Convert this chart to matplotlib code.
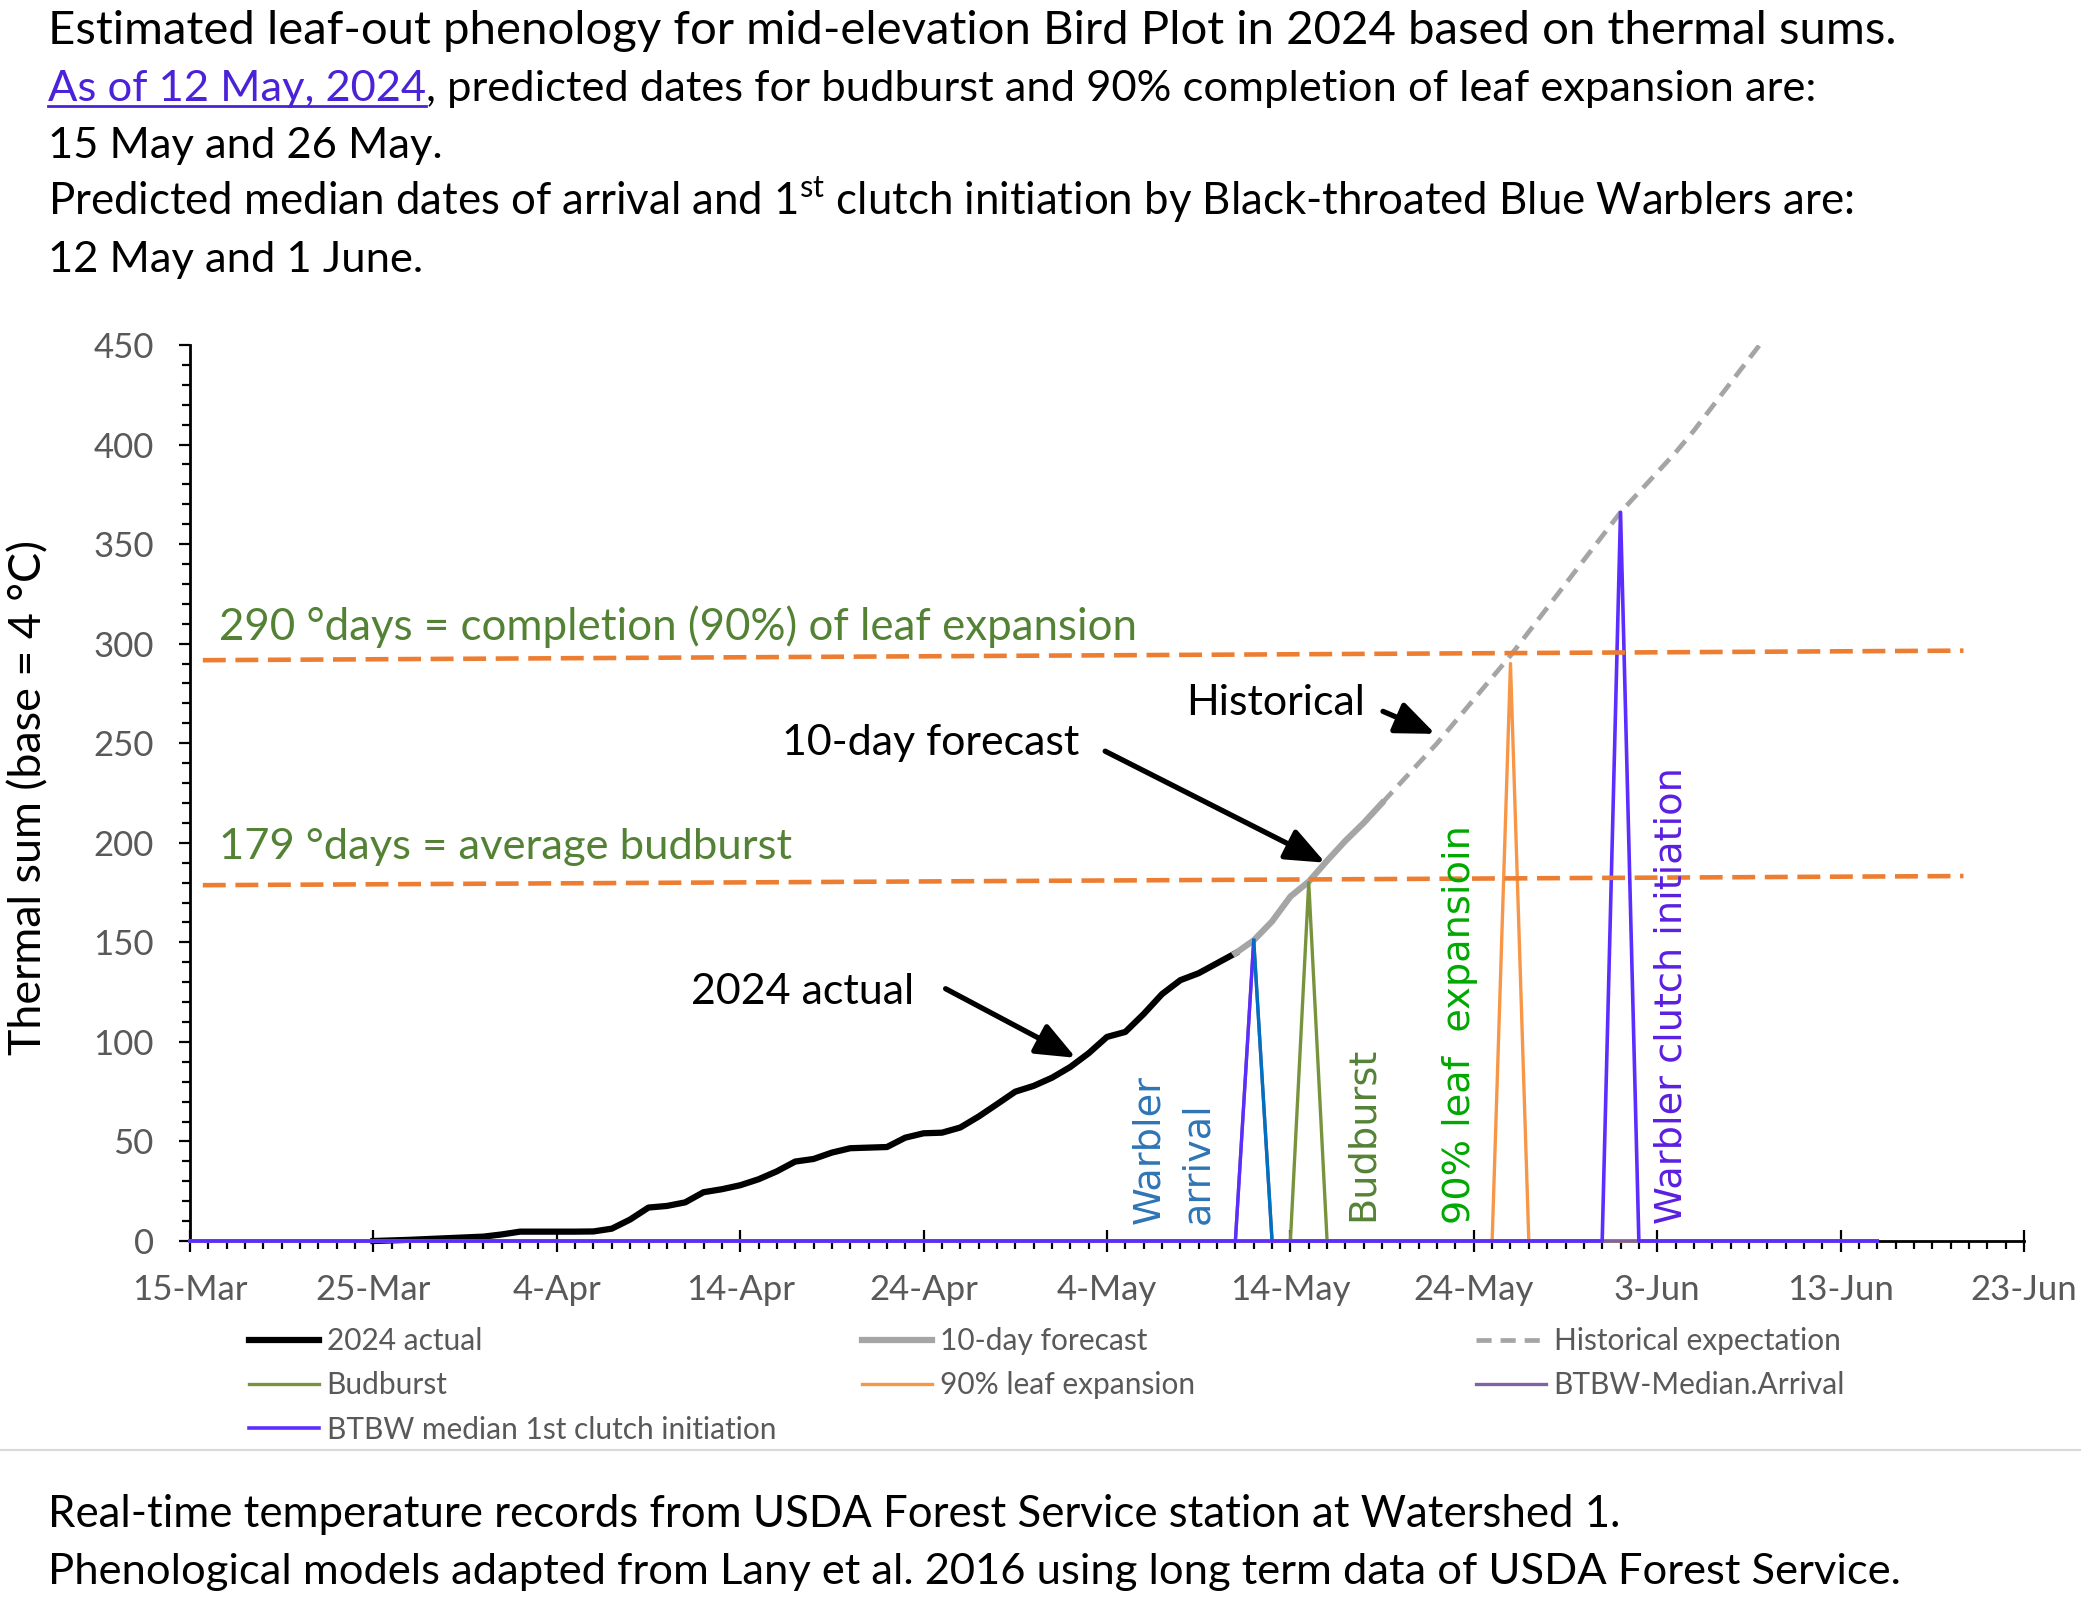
import numpy as np
import matplotlib
matplotlib.use('Agg')
import matplotlib.pyplot as plt
from matplotlib.lines import Line2D
from matplotlib.ticker import MultipleLocator, FixedLocator

plt.rcParams['font.family'] = ['Lato', 'DejaVu Sans']
plt.rcParams['mathtext.fontset'] = 'custom'
plt.rcParams['mathtext.rm'] = 'Lato'

# x values are days counted from 15 March 2024
actual_days = list(range(10, 58))
actual_sum = [0, 0.3, 0.6, 1.0, 1.4, 1.8, 2.2, 3.3, 4.7, 4.7,
              4.7, 4.7, 4.8, 6.2, 10.8, 16.8, 17.6, 19.4, 24.5, 26.0,
              28.0, 31.0, 35.0, 39.9, 41.2, 44.4, 46.6, 46.9, 47.2, 51.9,
              54.1, 54.4, 57.0, 62.5, 68.7, 75.0, 77.9, 82.0, 87.4, 94.3,
              102.5, 105.0, 114.0, 124.0, 131.0, 134.5, 139.5, 144.5]
forecast_days = list(range(57, 66))
forecast_sum = [144.5, 151, 160.5, 173, 180.5, 191, 201, 210, 220]
hist_days = list(range(65, 87))
hist_sum = [220, 230, 240, 250, 261, 272, 283, 294, 306, 318, 330,
            342, 354, 366, 376, 386, 396, 407, 419, 431, 443, 455]

budburst_days = [0, 60, 61, 62, 92]
budburst_sum = [0, 0, 180, 0, 0]
leaf_days = [0, 71, 72, 73, 92]
leaf_sum = [0, 0, 290, 0, 0]
arrival_days = [0, 57, 58, 59, 92]
arrival_sum = [0, 0, 151, 0, 0]
clutch_days = [0, 77, 78, 79, 92]
clutch_sum = [0, 0, 366, 0, 0]

threshold_days = [0.7, 96.7]
budburst_line = [178.7, 183.3]
leaf_line = [291.7, 296.5]

tick_days = [0, 10, 20, 30, 40, 50, 60, 70, 80, 90, 100]
tick_labels = ['15-Mar', '25-Mar', '4-Apr', '14-Apr', '24-Apr', '4-May',
               '14-May', '24-May', '3-Jun', '13-Jun', '23-Jun']

W, H = 2081, 1601
fig = plt.figure(figsize=(W / 100, H / 100), dpi=100)
ax = fig.add_axes([190 / W, 1 - 1241 / H, (2024 - 190) / W, (1241 - 345) / H])

l_act, = ax.plot(actual_days, actual_sum, color='black', lw=4.5, label='2024 actual',
                 solid_joinstyle='round', clip_on=False, zorder=3)
l_fc, = ax.plot(forecast_days, forecast_sum, color='#A5A5A5', lw=4.5, label='10-day forecast',
                solid_joinstyle='round', zorder=3)
l_hist, = ax.plot(hist_days, hist_sum, color='#A5A5A5', lw=3.4, dashes=(3.2, 1.9),
                  label='Historical expectation', zorder=3)
l_bud, = ax.plot(budburst_days, budburst_sum, color='#77933C', lw=2.4, label='Budburst',
                 clip_on=False, zorder=4)
l_leaf, = ax.plot(leaf_days, leaf_sum, color='#F79646', lw=2.4, label='90% leaf expansion',
                  clip_on=False, zorder=4)
l_arr, = ax.plot(arrival_days, arrival_sum, color='#8064A2', lw=2.4, label='BTBW-Median.Arrival',
                 clip_on=False, zorder=4)
ax.plot(arrival_days[1:3], arrival_sum[1:3], color='#5B2EFF', lw=2.4, zorder=4)
ax.plot(arrival_days[2:4], arrival_sum[2:4], color='#0070C0', lw=2.4, zorder=4)
l_cl, = ax.plot(clutch_days, clutch_sum, color='#5B2EFF', lw=2.6,
                label='BTBW median 1st clutch initiation', clip_on=False, zorder=5)

ax.plot(threshold_days, budburst_line, color='#ED7D31', lw=3.3, dashes=(5, 2.1), zorder=6)
ax.plot(threshold_days, leaf_line, color='#ED7D31', lw=3.3, dashes=(5, 2.1), zorder=6)

ax.set_xlim(0, 100)
ax.set_ylim(0, 450)
for s in ['top', 'right']:
    ax.spines[s].set_visible(False)
for s in ['left', 'bottom']:
    ax.spines[s].set_linewidth(2)
    ax.spines[s].set_color('black')

ax.xaxis.set_major_locator(FixedLocator(tick_days))
ax.set_xticklabels(tick_labels)
ax.xaxis.set_minor_locator(MultipleLocator(1))
ax.yaxis.set_major_locator(MultipleLocator(50))
ax.yaxis.set_minor_locator(MultipleLocator(10))
ax.tick_params(axis='x', which='major', direction='inout', length=16, width=1.6,
               labelsize=25, labelcolor='#595959', pad=16)
ax.tick_params(axis='x', which='minor', direction='out', length=6, width=1.6)
ax.tick_params(axis='y', which='major', direction='out', length=8, width=1.6,
               labelsize=25, labelcolor='#595959', pad=18)
ax.tick_params(axis='y', which='minor', direction='out', length=6, width=1.6)

ax.set_ylabel('Thermal sum (base = 4 °C)', fontsize=32.3)
ax.yaxis.set_label_coords(-0.0878, 0.495)
ax.yaxis.label.set_verticalalignment('center')

green = '#548235'
ax.text(1.6, 308.7, '290 °days = completion (90%) of leaf expansion', color=green,
        fontsize=31.6, va='center', ha='left', zorder=7)
ax.text(1.6, 198, '179 °days = average budburst', color=green,
        fontsize=31.3, va='center', ha='left', zorder=7)

arrow = dict(arrowstyle='-|>,head_length=0.8,head_width=0.33', color='black', lw=3.8,
             mutation_scale=30, shrinkA=0, shrinkB=0)
ax.text(33.4, 125.3, '2024 actual', fontsize=31, ha='center', va='center', zorder=7)
ax.annotate('', xy=(48.3, 92), xytext=(41.2, 126.7), arrowprops=arrow, zorder=7)
ax.text(40.4, 250, '10-day forecast', fontsize=31, ha='center', va='center', zorder=7)
ax.annotate('', xy=(61.9, 190), xytext=(49.9, 246), arrowprops=arrow, zorder=7)
ax.text(59.2, 270, 'Historical', fontsize=31, ha='center', va='center', zorder=7)
ax.annotate('', xy=(67.9, 254.7), xytext=(65.05, 266), arrowprops=arrow, zorder=7)

rot = dict(rotation=90, ha='center', va='bottom', family='DejaVu Sans', fontsize=27.5,
           multialignment='left', zorder=7)
ax.text(53.65, 8.7, 'Warbler\narrival', color='#2E75B6', linespacing=1.45, **rot)
ax.text(63.97, 10, 'Budburst', color=green, **rot)
ax.text(69.25, 8.7, '90% leaf  expansioin', color='#00A800', **rot)
ax.text(80.8, 8.7, 'Warbler clutch initiation', color='#5B1FE0', **rot)

# legend, three columns like the spreadsheet
leg_kw = dict(frameon=False, fontsize=21.5, labelcolor='#595959', loc='upper left',
              handlelength=2.35, handletextpad=0.25, labelspacing=0.55, borderpad=0,
              borderaxespad=0)
top = 1 - 1327 / H
lg1 = fig.legend(handles=[l_act, l_bud, l_cl], bbox_to_anchor=(249 / W, top), **leg_kw)
lg2 = fig.legend(handles=[l_fc, l_leaf], bbox_to_anchor=(862 / W, top), **leg_kw)
lg3 = fig.legend(handles=[l_hist, l_arr], bbox_to_anchor=(1476 / W, top), **leg_kw)

# header and footer text
x0 = 48 / W
base = [44, 101, 158, 215, 272]
fig.text(x0, 1 - base[0] / H, 'Estimated leaf-out phenology for mid-elevation Bird Plot in 2024 based on thermal sums.',
         fontsize=34, va='baseline')
link = fig.text(x0, 1 - base[1] / H, 'As of 12 May, 2024', fontsize=31.3, va='baseline', color='#4A22D8')
fig.text(x0, 1 - base[2] / H, '15 May and 26 May.', fontsize=31.3, va='baseline')
fig.text(x0, 1 - base[3] / H,
         'Predicted median dates of arrival and 1$^{\\mathrm{st}}$ clutch initiation by Black-throated Blue Warblers are:',
         fontsize=31.5, va='baseline')
fig.text(x0, 1 - base[4] / H, '12 May and 1 June.', fontsize=31.3, va='baseline')
fig.text(x0, 1 - 1527 / H, 'Real-time temperature records from USDA Forest Service station at Watershed 1.',
         fontsize=31.5, va='baseline')
fig.text(x0, 1 - 1584 / H, 'Phenological models adapted from Lany et al. 2016 using long term data of USDA Forest Service.',
         fontsize=31.3, va='baseline')

fig.add_artist(Line2D([0, 1], [1 - 1450 / H] * 2, color='#D9D9D9', lw=1.5))

fig.canvas.draw()
bb = link.get_window_extent()
x_end = bb.x1 / W
fig.add_artist(Line2D([x0, x_end], [1 - (base[1] + 5) / H] * 2, color='#4A22D8', lw=2))
fig.text(x_end, 1 - base[1] / H, ', predicted dates for budburst and 90% completion of leaf expansion are:',
         fontsize=31.3, va='baseline')

fig.savefig('out.png', dpi=100)
